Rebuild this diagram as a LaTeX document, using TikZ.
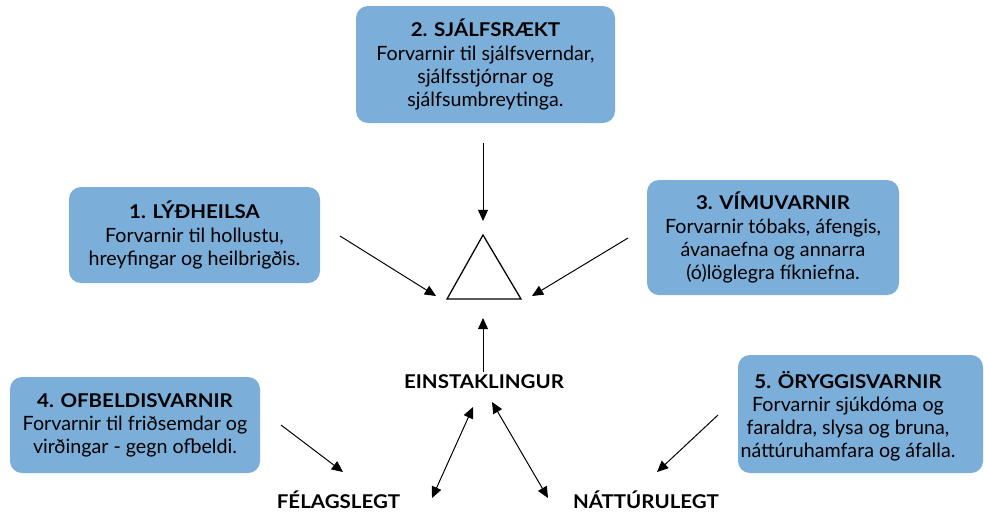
\documentclass[tikz,border=0pt]{standalone}
\usepackage{fontspec}
\setmainfont{Lato}
\newfontfamily\headfont{Lato}[FakeStretch=1.08]
\usepackage{tikz}
\usetikzlibrary{arrows.meta}
\definecolor{boxblue}{RGB}{123,174,216}
\newcommand{\boxhead}[1]{{\headfont\bfseries\fontsize{13.5}{16.4}\selectfont #1}}
\tikzstyle{infobox} = [fill=boxblue, rounded corners=0.3cm, align=center, inner sep=0pt, font=\fontsize{14}{16.4}\selectfont]
\tikzstyle{label} = [font=\headfont\bfseries\fontsize{13.5}{15}\selectfont]
\tikzstyle{pointer} = [-{Triangle[length=0.28cm, width=0.25cm]}, line width=0.7pt]
\tikzstyle{twoway} = [{Triangle[length=0.28cm, width=0.25cm]}-{Triangle[length=0.28cm, width=0.25cm]}, line width=0.7pt]

\begin{document}
\begin{tikzpicture}
      \useasboundingbox (0, 0) rectangle (24.6, -12.775);
      \clip (0, 0) rectangle (24.6, -12.775);

      \node[infobox, minimum width=6.275cm, minimum height=2.4cm] (health) at (4.8625, -5.875) {\boxhead{1. LÝÐHEILSA}\\Forvarnir til hollustu,\\hreyfingar og heilbrigðis.};
      \node[infobox, minimum width=6.475cm, minimum height=2.925cm] (selfcare) at (12.1375, -1.6125) {\boxhead{2. SJÁLFSRÆKT}\\Forvarnir til sjálfsverndar,\\sjálfsstjórnar og\\sjálfsumbreytinga.};
      \node[infobox, minimum width=6.3cm, minimum height=2.875cm] (drugs) at (19.325, -5.9375) {\boxhead{3. VÍMUVARNIR}\\Forvarnir tóbaks, áfengis,\\ávanaefna og annarra\\(ó)löglegra fíkniefna.};
      \node[infobox, minimum width=6.25cm, minimum height=2.4cm] (violence) at (3.375, -10.625) {\boxhead{4. OFBELDISVARNIR}\\Forvarnir til friðsemdar og\\virðingar - gegn ofbeldi.};
      \fill[boxblue, rounded corners=0.3cm] (18.45, -8.875) rectangle (24.575, -11.825);
      \node[infobox, fill=none] (safety) at (21.2, -10.4) {\boxhead{5. ÖRYGGISVARNIR}\\Forvarnir sjúkdóma og\\faraldra, slysa og bruna,\\náttúruhamfara og áfalla.};

      \node[label] (individual) at (12.1, -9.5375) {EINSTAKLINGUR};
      \node[label] (social) at (8.4625, -12.5) {FÉLAGSLEGT};
      \node[label] (natural) at (16.15, -12.5) {NÁTTÚRULEGT};

      % triangle in the middle
      \coordinate (apex) at (12.075, -5.875);
      \coordinate (lcorner) at (11.175, -7.475);
      \coordinate (rcorner) at (13.025, -7.475);
      \draw[line width=0.9pt] (apex) -- (lcorner) -- (rcorner) -- cycle;

      \coordinate (from1) at (8.5, -5.9);
      \coordinate (to1) at (10.9, -7.4);
      \coordinate (from2) at (12.075, -3.575);
      \coordinate (to2) at (12.075, -5.525);
      \coordinate (from3) at (15.7, -5.95);
      \coordinate (to3) at (13.3, -7.4);
      \coordinate (from4) at (7.025, -10.625);
      \coordinate (to4) at (8.575, -11.8);
      \coordinate (from5) at (17.95, -10.375);
      \coordinate (to5) at (16.425, -11.8);
      \coordinate (up) at (12.075, -7.95);
      \coordinate (indstem) at (12.075, -9.3);
      \coordinate (socialtop) at (11.825, -10.175);
      \coordinate (socialend) at (10.8, -12.45);
      \coordinate (naturaltop) at (12.3, -10.05);
      \coordinate (naturalend) at (13.7, -12.45);

      \draw[pointer] (from1) -- (to1);
      \draw[pointer] (from2) -- (to2);
      \draw[pointer] (from3) -- (to3);
      \draw[pointer] (indstem) -- (up);
      \draw[pointer] (from4) -- (to4);
      \draw[pointer] (from5) -- (to5);
      \draw[twoway] (socialtop) -- (socialend);
      \draw[twoway] (naturaltop) -- (naturalend);
    \end{tikzpicture}
\end{document}
